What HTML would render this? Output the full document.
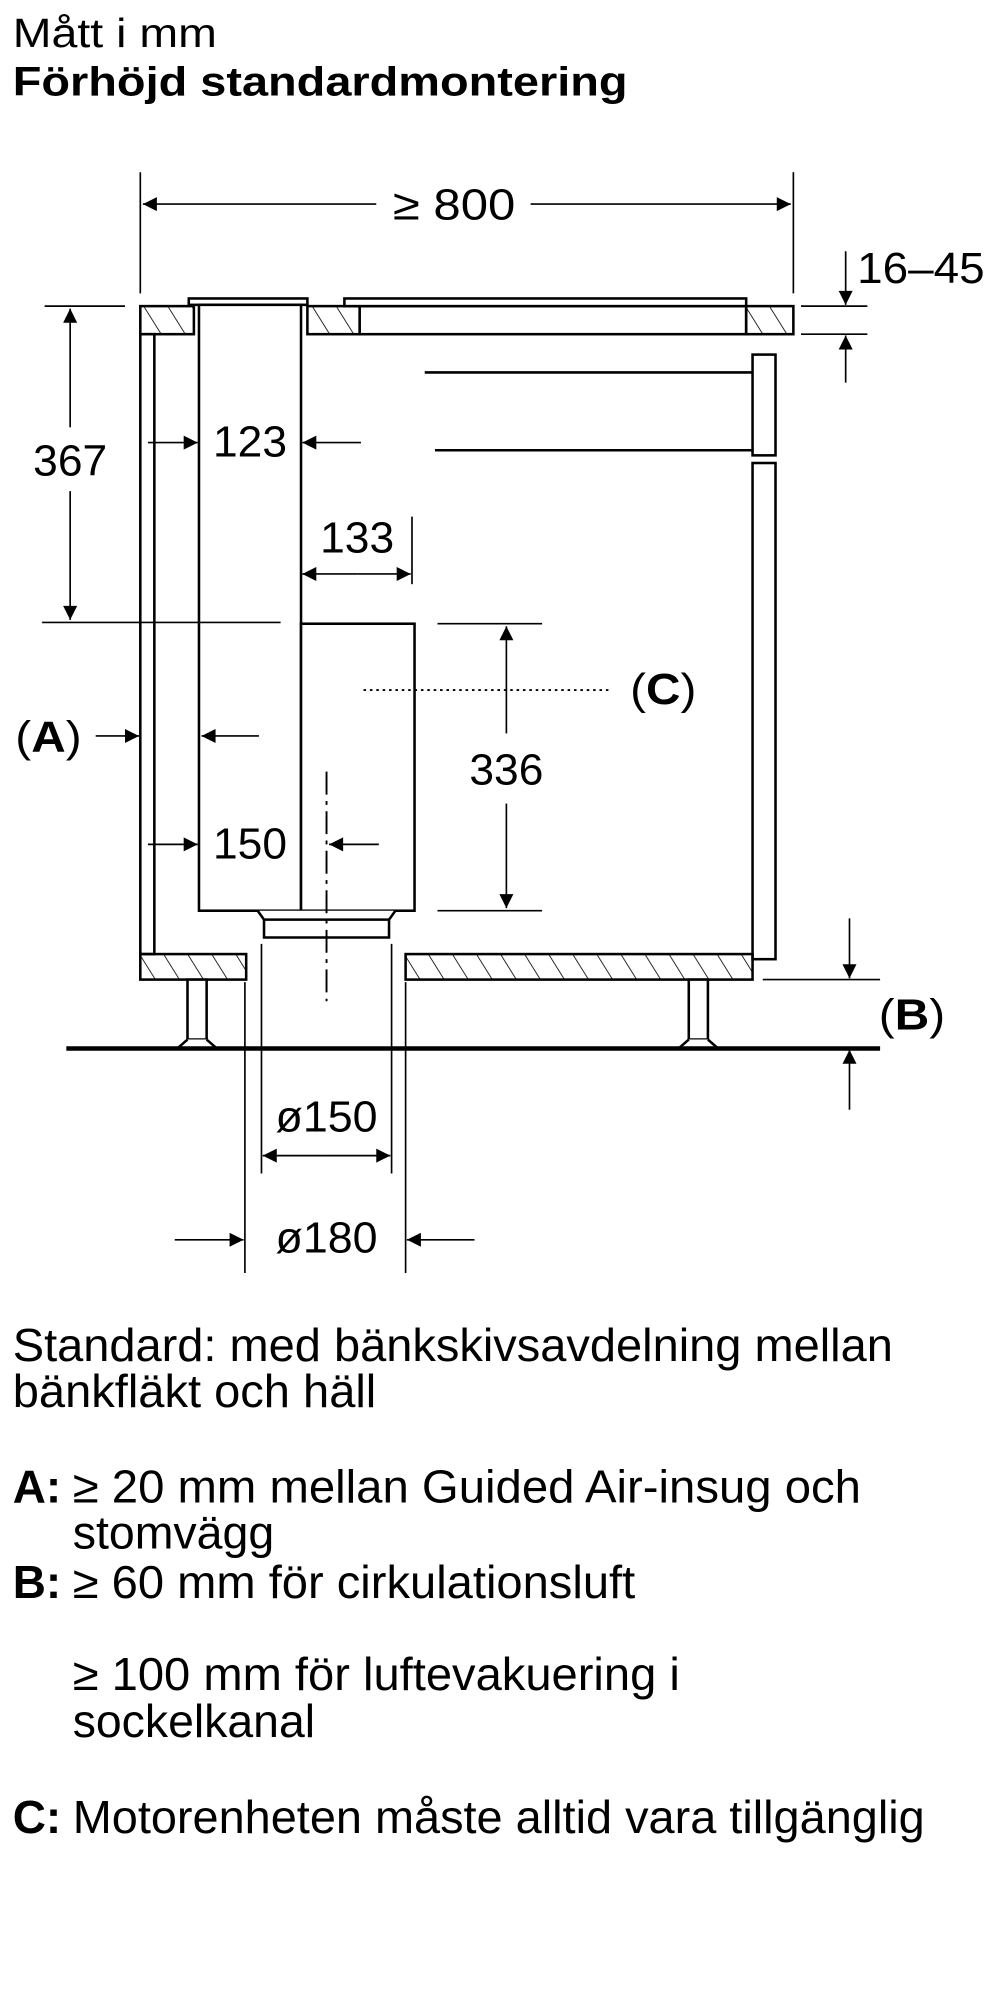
<!DOCTYPE html>
<html><head><meta charset="utf-8"><style>
html,body{margin:0;padding:0;background:#fff;}
svg{display:block;}
text{font-family:"Liberation Sans",Arial,sans-serif;fill:#000;}
</style></head><body>
<svg width="1000" height="2000" viewBox="0 0 784 1568" xmlns="http://www.w3.org/2000/svg">
<defs>
<pattern id="h" patternUnits="userSpaceOnUse" width="16" height="16" patternTransform="rotate(-32)">
<line x1="0" y1="0" x2="0" y2="16" stroke="#000" stroke-width="1.3"/>
</pattern>
<marker id="a" viewBox="0 0 10 10" refX="10" refY="5" markerWidth="17" markerHeight="11" markerUnits="userSpaceOnUse" orient="auto"><path d="M0,0 L10,5 L0,10 z" fill="#000"/></marker>
</defs>
<text x="10" y="37" font-size="32" textLength="160" lengthAdjust="spacingAndGlyphs">Mått i mm</text>
<text x="10" y="75" font-size="32" font-weight="bold" textLength="482" lengthAdjust="spacingAndGlyphs">Förhöjd standardmontering</text>

<g stroke="#000" fill="none" stroke-width="1.3">
<line x1="110" y1="135" x2="110" y2="230"/><line x1="622" y1="135" x2="622" y2="230"/>
<line x1="295" y1="160" x2="112" y2="160" marker-end="url(#a)"/>
<line x1="416" y1="160" x2="620" y2="160" marker-end="url(#a)"/>
</g>
<text x="356" y="172" font-size="34" text-anchor="middle" textLength="96" lengthAdjust="spacingAndGlyphs">≥ 800</text>

<g stroke="#000" stroke-width="2">
<rect x="110" y="240" width="42" height="22" fill="url(#h)"/>
<rect x="241" y="240" width="41" height="22" fill="url(#h)"/>
<rect x="282" y="240" width="303" height="22" fill="#fff"/>
<rect x="585" y="240" width="37" height="22" fill="url(#h)"/>
<rect x="270" y="234" width="315" height="6" fill="#fff"/>
<rect x="148" y="234" width="93" height="5" fill="#fff"/>
<rect x="156" y="239" width="80" height="475" fill="#fff"/>
<rect x="110" y="262" width="11" height="486" fill="#fff"/>
<rect x="590" y="278" width="18" height="79" fill="#fff"/>
<rect x="590" y="363" width="18" height="389" fill="#fff"/>
<line x1="333" y1="292" x2="590" y2="292"/>
<line x1="341" y1="353" x2="590" y2="353"/>
<rect x="236" y="489" width="89" height="225" fill="#fff"/>
<path d="M202,714 L207,721 L207,735 L305,735 L305,721 L310,714" fill="#fff"/>
<line x1="207" y1="721" x2="305" y2="721"/>
<rect x="110" y="748" width="83" height="20" fill="url(#h)"/>
<rect x="318" y="748" width="272" height="20" fill="url(#h)"/>
<rect x="147" y="768" width="15" height="47" fill="#fff"/>
<path d="M147,815 L139,822 L170,822 L162,815" fill="#fff"/>
<rect x="540" y="768" width="15" height="47" fill="#fff"/>
<path d="M540,815 L532,822 L563,822 L555,815" fill="#fff"/>
</g>
<line x1="52" y1="822" x2="690" y2="822" stroke="#000" stroke-width="3.5"/>
<line x1="256" y1="605" x2="256" y2="785" stroke="#000" stroke-width="1.5" stroke-dasharray="18,5,3,5"/>

<g stroke="#000" fill="none" stroke-width="1.3">
<line x1="35" y1="240" x2="98" y2="240"/><line x1="33" y1="488" x2="220" y2="488"/>
<line x1="55" y1="335" x2="55" y2="242" marker-end="url(#a)"/>
<line x1="55" y1="385" x2="55" y2="486" marker-end="url(#a)"/>
<line x1="116" y1="347" x2="155" y2="347" marker-end="url(#a)"/>
<line x1="283" y1="347" x2="237" y2="347" marker-end="url(#a)"/>
<line x1="323" y1="405" x2="323" y2="458"/>
<line x1="280" y1="450" x2="237" y2="450" marker-end="url(#a)"/>
<line x1="280" y1="450" x2="322" y2="450" marker-end="url(#a)"/>
<line x1="75" y1="577" x2="109" y2="577" marker-end="url(#a)"/>
<line x1="203" y1="577" x2="158" y2="577" marker-end="url(#a)"/>
<line x1="116" y1="662" x2="155" y2="662" marker-end="url(#a)"/>
<line x1="297" y1="662" x2="258" y2="662" marker-end="url(#a)"/>
<line x1="343" y1="489" x2="425" y2="489"/><line x1="343" y1="714" x2="425" y2="714"/>
<line x1="397" y1="575" x2="397" y2="491" marker-end="url(#a)"/>
<line x1="397" y1="630" x2="397" y2="712" marker-end="url(#a)"/>
<line x1="628" y1="240" x2="680" y2="240"/><line x1="628" y1="262" x2="680" y2="262"/>
<line x1="663" y1="197" x2="663" y2="239" marker-end="url(#a)"/>
<line x1="663" y1="300" x2="663" y2="263" marker-end="url(#a)"/>
<line x1="598" y1="768" x2="690" y2="768"/>
<line x1="666" y1="720" x2="666" y2="767" marker-end="url(#a)"/>
<line x1="666" y1="870" x2="666" y2="823" marker-end="url(#a)"/>
<line x1="205" y1="740" x2="205" y2="920"/><line x1="307" y1="740" x2="307" y2="920"/>
<line x1="256" y1="906" x2="206" y2="906" marker-end="url(#a)"/>
<line x1="256" y1="906" x2="306" y2="906" marker-end="url(#a)"/>
<line x1="192" y1="770" x2="192" y2="998"/><line x1="318" y1="770" x2="318" y2="998"/>
<line x1="137" y1="972" x2="191" y2="972" marker-end="url(#a)"/>
<line x1="372" y1="972" x2="319" y2="972" marker-end="url(#a)"/>
</g>
<line x1="285" y1="541" x2="480" y2="541" stroke="#000" stroke-width="1.5" stroke-dasharray="2,3"/>

<g font-size="34">
<text x="55" y="373" text-anchor="middle" textLength="58" lengthAdjust="spacingAndGlyphs">367</text>
<text x="196" y="358" text-anchor="middle" textLength="58" lengthAdjust="spacingAndGlyphs">123</text>
<text x="280" y="433" text-anchor="middle" textLength="58" lengthAdjust="spacingAndGlyphs">133</text>
<text x="196" y="673" text-anchor="middle" textLength="58" lengthAdjust="spacingAndGlyphs">150</text>
<text x="397" y="615" text-anchor="middle" textLength="58" lengthAdjust="spacingAndGlyphs">336</text>
<text x="672" y="222" textLength="100" lengthAdjust="spacingAndGlyphs">16–45</text>
<text x="256" y="887" text-anchor="middle" textLength="80" lengthAdjust="spacingAndGlyphs">ø150</text>
<text x="256" y="982" text-anchor="middle" textLength="80" lengthAdjust="spacingAndGlyphs">ø180</text>
<text x="12" y="589" textLength="52" lengthAdjust="spacingAndGlyphs">(<tspan font-weight="bold">A</tspan>)</text>
<text x="494" y="552" textLength="52" lengthAdjust="spacingAndGlyphs">(<tspan font-weight="bold">C</tspan>)</text>
<text x="689" y="807" textLength="52" lengthAdjust="spacingAndGlyphs">(<tspan font-weight="bold">B</tspan>)</text>
</g>

<g font-size="36">
<text x="10" y="1067" textLength="690" lengthAdjust="spacingAndGlyphs">Standard: med bänkskivsavdelning mellan</text>
<text x="10" y="1103" textLength="285" lengthAdjust="spacingAndGlyphs">bänkfläkt och häll</text>
<text x="10" y="1178" font-weight="bold" textLength="38" lengthAdjust="spacingAndGlyphs">A:</text>
<text x="57" y="1178" textLength="618" lengthAdjust="spacingAndGlyphs">≥ 20 mm mellan Guided Air-insug och</text>
<text x="57" y="1214" textLength="158" lengthAdjust="spacingAndGlyphs">stomvägg</text>
<text x="10" y="1253" font-weight="bold" textLength="38" lengthAdjust="spacingAndGlyphs">B:</text>
<text x="57" y="1253" textLength="441" lengthAdjust="spacingAndGlyphs">≥ 60 mm för cirkulationsluft</text>
<text x="57" y="1325" textLength="476" lengthAdjust="spacingAndGlyphs">≥ 100 mm för luftevakuering i</text>
<text x="57" y="1362" textLength="190" lengthAdjust="spacingAndGlyphs">sockelkanal</text>
<text x="10" y="1437" font-weight="bold" textLength="38" lengthAdjust="spacingAndGlyphs">C:</text>
<text x="57" y="1437" textLength="668" lengthAdjust="spacingAndGlyphs">Motorenheten måste alltid vara tillgänglig</text>
</g>
</svg>
</body></html>
